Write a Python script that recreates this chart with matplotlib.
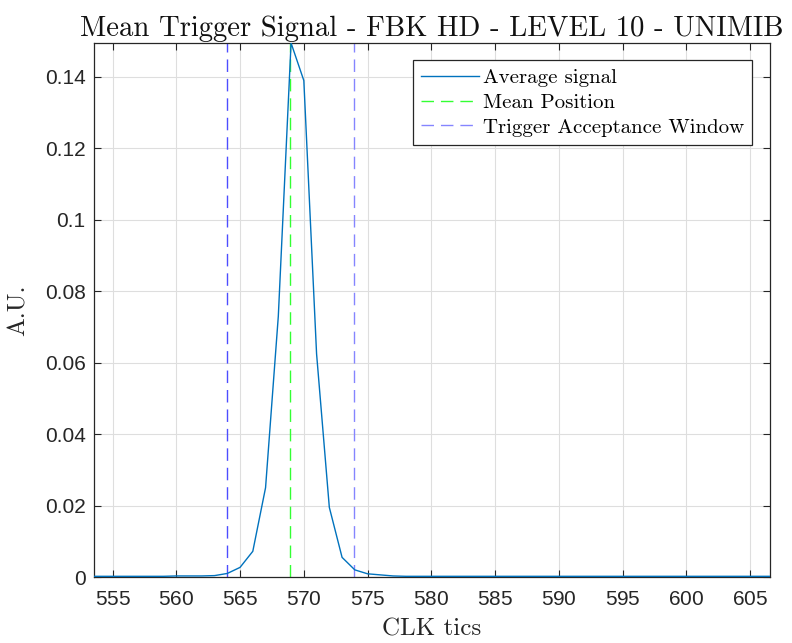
import numpy as np
import matplotlib
matplotlib.use("Agg")
import matplotlib.pyplot as plt

clk = list(range(553, 608))
signal = ([0.0002, 0.0002, 0.0002, 0.0002, 0.0002, 0.0002, 0.0002, 0.0003, 0.0003, 0.0003, 0.0004]  # 553-563
          + [0.0010, 0.0027, 0.0072, 0.0250, 0.0730, 0.1495, 0.1390, 0.0625, 0.0195, 0.0055, 0.0020,
             0.0009, 0.0006, 0.0003]  # 564-577
          + [0.0002] * 30)  # 578-607
mean_pos = 568.95
win_half = 5.0
xlim = (553.55, 606.55)
ylim = (0, 0.1495)
xticks = list(range(555, 606, 5))
yticks = [0, 0.02, 0.04, 0.06, 0.08, 0.1, 0.12, 0.14]
ytick_labels = ["0", "0.02", "0.04", "0.06", "0.08", "0.1", "0.12", "0.14"]

plt.rcParams['axes.formatter.use_mathtext'] = True
serif = 'cmr10'
tickfont = 'Liberation Sans'

fig = plt.figure(figsize=(7.92, 6.43), dpi=100)
ax = fig.add_axes([0.1187, 0.1026, 0.9722 - 0.1187, 0.9331 - 0.1026])

dash = (0, (9, 5))
ax.plot(clk, signal, color='#0072BD', lw=1.0, label='Average signal', zorder=3)
ax.axvline(mean_pos, color='#33ff33', lw=1.0, ls=dash, label='Mean Position', zorder=2)
ax.axvline(mean_pos - win_half, color='#4d4dff', lw=1.0, ls=dash, zorder=2)
ax.axvline(mean_pos + win_half, color='#8585ff', lw=1.0, ls=dash,
           label='Trigger Acceptance Window', zorder=2)

ax.set_xlim(*xlim)
ax.set_ylim(*ylim)
ax.set_xticks(xticks)
ax.set_yticks(yticks)
ax.set_yticklabels(ytick_labels)
for lab in ax.get_xticklabels() + ax.get_yticklabels():
    lab.set_fontfamily(tickfont)
    lab.set_fontsize(15)
    lab.set_color('#262626')
ax.tick_params(direction='in', length=5, width=0.8, colors='#262626', top=True, right=True,
               labeltop=False, labelright=False)
ax.tick_params(axis='x', pad=9)
ax.tick_params(axis='y', pad=6)
ax.grid(True, color='#dedede', lw=0.8)
ax.set_axisbelow(True)
for s in ax.spines.values():
    s.set_color('#262626')
    s.set_linewidth(0.9)

ax.set_title('Mean Trigger Signal - FBK HD - LEVEL 10 - UNIMIB', fontfamily=serif, fontsize=20.7,
             color='#111111', pad=5)
ax.set_xlabel('CLK tics', fontfamily=serif, fontsize=18, color='#262626', labelpad=7)
ax.set_ylabel('A.U.', fontfamily=serif, fontsize=18, color='#262626', labelpad=11)

leg = ax.legend(loc='upper right', bbox_to_anchor=(0.9735, 0.968), prop={'family': serif, 'size': 15},
                frameon=True, fancybox=False, edgecolor='#262626', framealpha=1,
                handlelength=2.8, handletextpad=0.15, borderpad=0.4, labelspacing=0.3,
                borderaxespad=0)
leg.get_frame().set_linewidth(0.9)

fig.savefig('out.png', dpi=100, facecolor='white')
